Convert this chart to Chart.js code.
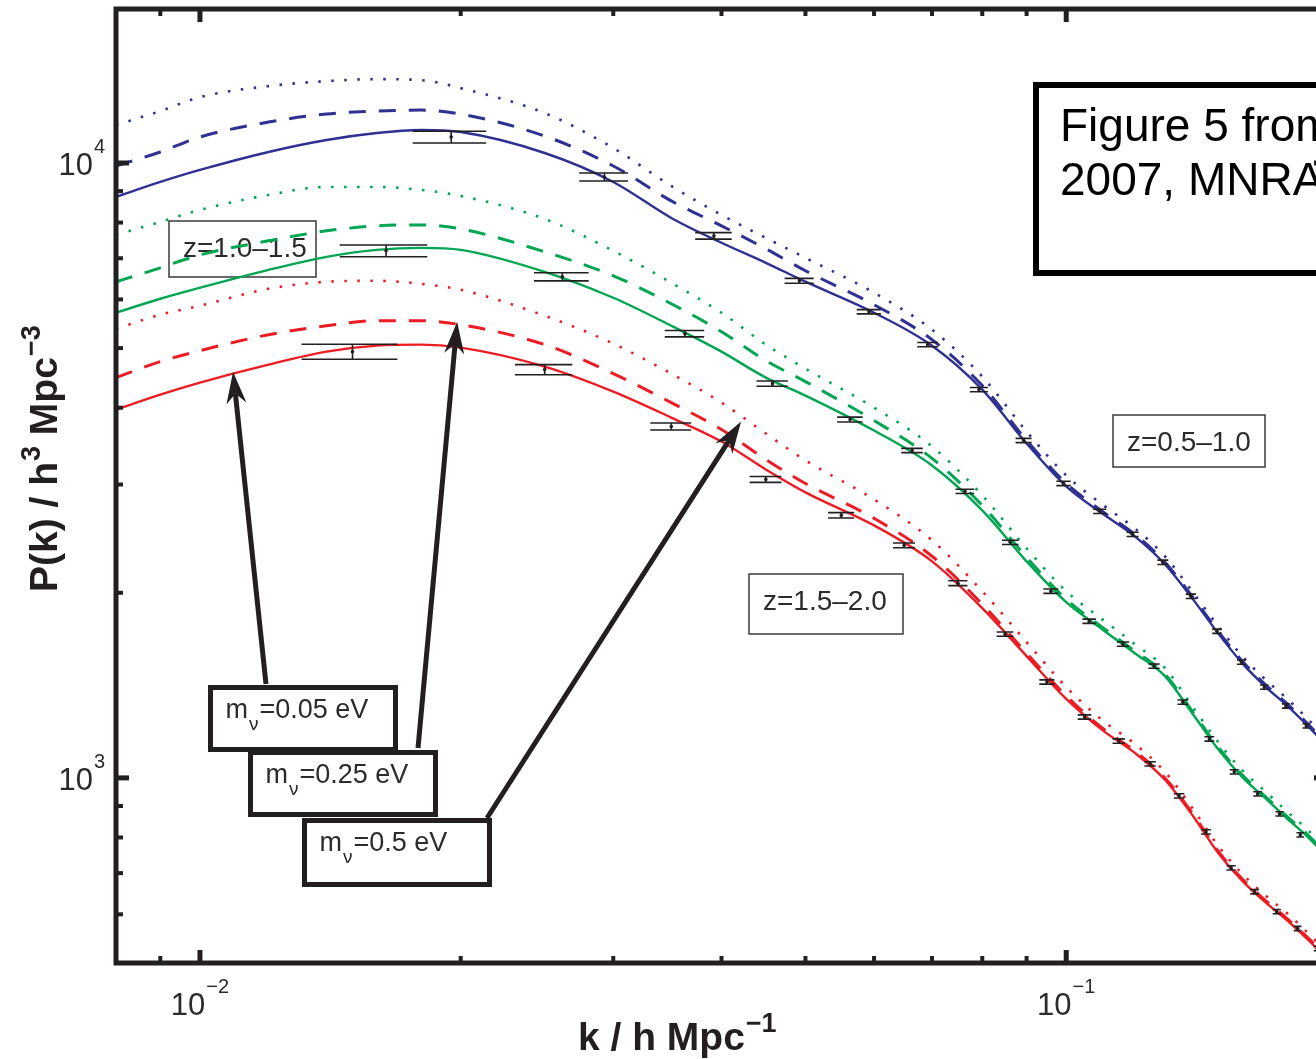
<!DOCTYPE html>
<html>
<head>
<meta charset="utf-8">
<title>P(k)</title>
<script src="https://cdn.jsdelivr.net/npm/chart.js@4.4.1/dist/chart.umd.min.js"></script>
<style>
  html, body { margin: 0; padding: 0; background: #fff; overflow: hidden; }
  #caja { position: relative; width: 1340px; height: 1059px; }
</style>
</head>
<body>
<div id="caja"><canvas id="grafica" width="1340" height="1059"></canvas></div>
<script>
// malla de k (h/Mpc) donde se leen los modelos
const kGrid = [0.008, 0.009, 0.01, 0.012, 0.014, 0.016, 0.018, 0.02, 0.025, 0.03, 0.035, 0.04, 0.045, 0.05,
  0.06, 0.07, 0.08, 0.09, 0.1, 0.11, 0.12, 0.13, 0.14, 0.15, 0.16, 0.17, 0.18, 0.19, 0.2];

// z = 0.5-1.0 (azul): m_nu = 0.05, 0.25, 0.5 eV
const pAzul005 = [8808, 9314, 9742, 10420, 10898, 11187, 11313, 11228, 10381, 9314, 8140, 7417, 6881, 6411,
  5708, 5045, 4280, 3499, 2979, 2693, 2471, 2226, 1953, 1713, 1531, 1405, 1309, 1215, 1127];
const pAzul025 = [9888, 10420, 11021, 11656, 12011, 12146, 12191, 12011, 11062, 9888, 8677, 7904, 7253, 6679,
  5882, 5159, 4345, 3538, 3013, 2714, 2490, 2243, 1967, 1726, 1543, 1416, 1319, 1224, 1136];
const pAzul05 = [11526, 12146, 12796, 13335, 13587, 13689, 13638, 13236, 12055, 10577, 9176, 8232, 7554, 7011,
  6151, 5356, 4494, 3659, 3104, 2785, 2546, 2293, 2004, 1759, 1572, 1443, 1344, 1247, 1157];

// z = 1.0-1.5 (verde)
const pVerde005 = [5708, 6015, 6268, 6703, 7037, 7224, 7278, 7224, 6653, 6037, 5437, 4934, 4477, 4186,
  3672, 3222, 2723, 2250, 1931, 1745, 1595, 1464, 1270, 1110, 1000, 925, 858, 802, 744];
const pVerde025 = [6409, 6753, 7090, 7471, 7756, 7902, 7931, 7814, 7170, 6554, 5903, 5317, 4771, 4410,
  3812, 3308, 2774, 2284, 1952, 1759, 1608, 1475, 1280, 1119, 1008, 931, 864, 808, 750];
const pVerde05 = [7640, 8021, 8389, 8873, 9142, 9142, 9040, 8840, 8111, 7197, 6385, 5708, 5065, 4630,
  4002, 3459, 2880, 2362, 2012, 1812, 1650, 1509, 1304, 1140, 1026, 949, 881, 823, 764];

// z = 1.5-2.0 (rojo)
const pRojo005 = [3972, 4201, 4394, 4700, 4934, 5046, 5065, 5008, 4665, 4248, 3855, 3524, 3174, 2913,
  2574, 2250, 1888, 1578, 1344, 1197, 1098, 993, 868, 753, 678, 627, 586, 546, 508];
const pRojo025 = [4477, 4753, 4952, 5257, 5437, 5540, 5540, 5458, 5065, 4544, 4077, 3686, 3295, 3012,
  2643, 2293, 1916, 1595, 1359, 1206, 1106, 1000, 874, 758, 683, 631, 590, 550, 512];
const pRojo05 = [5377, 5665, 5859, 6244, 6409, 6433, 6361, 6220, 5644, 5084, 4544, 4077, 3631, 3283,
  2837, 2434, 2012, 1663, 1405, 1242, 1136, 1023, 891, 773, 696, 643, 602, 560, 522];

// puntos simulados con sus errores relativos
const kAzul = [0.0195, 0.0293, 0.0392, 0.0492, 0.0592, 0.0692, 0.0793, 0.0893, 0.0993, 0.1093, 0.1193, 0.1293,
  0.1393, 0.1493, 0.1593, 0.1693, 0.1793, 0.1893];
const pAzulObs = [11021, 9490, 7612, 6433, 5729, 5065, 4280, 3538, 3012, 2713, 2489, 2242, 1974, 1732, 1543, 1405, 1309, 1215];
const errAzul = [0.022, 0.015, 0.012, 0.009, 0.008, 0.008, 0.008, 0.008, 0.008, 0.008, 0.008, 0.008, 0.008, 0.008, 0.008, 0.008, 0.008, 0.008];

const kVerde = [0.0164, 0.0262, 0.0363, 0.0458, 0.0563, 0.0664, 0.0764, 0.0862, 0.0960, 0.1063, 0.1163, 0.1263,
  0.1363, 0.1463, 0.1563, 0.1663, 0.1763, 0.1863];
const pVerdeObs = [7197, 6530, 5277, 4377, 3826, 3408, 2924, 2416, 2012, 1798, 1650, 1520, 1328, 1157, 1023, 942, 874, 808];
const errVerde = [0.022, 0.015, 0.012, 0.010, 0.009, 0.008, 0.008, 0.008, 0.008, 0.008, 0.008, 0.008, 0.008, 0.008, 0.008, 0.008, 0.008, 0.008];

const kRojo = [0.015, 0.025, 0.035, 0.045, 0.055, 0.065, 0.075, 0.085, 0.095, 0.105, 0.115, 0.125, 0.135, 0.145,
  0.155, 0.165, 0.175, 0.185, 0.195];
const pRojoObs = [4934, 4613, 3728, 3058, 2673, 2389, 2073, 1713, 1432, 1256, 1148, 1054, 935, 817, 714, 653, 606, 569, 528];
const errRojo = [0.028, 0.019, 0.013, 0.011, 0.010, 0.009, 0.009, 0.008, 0.008, 0.008, 0.008, 0.008, 0.008, 0.008, 0.008, 0.008, 0.008, 0.008, 0.008];

// ticks de los ejes
const xMayores = [0.01, 0.1];
const xExpos = ['\u22122', '\u22121'];
const xMenores = [0.009, 0.02, 0.03, 0.04, 0.05, 0.06, 0.07, 0.08, 0.09];
const yMayores = [1000, 10000];
const yExpos = ['3', '4'];
const yMenores = [600, 700, 800, 900, 2000, 3000, 4000, 5000, 6000, 7000, 8000, 9000];

const AZUL = '#2e3192', VERDE = '#00a651', ROJO = '#ed1c24', NEGRO = '#231f20';
const FUENTE = "'Liberation Sans', Arial, sans-serif";
const SEMI_CAJA = 0.0019;   // media anchura de las barras horizontales, en k

function serie(valores, color, dash, ancho) {
  return {
    type: 'line',
    data: kGrid.map((k, i) => ({ x: k, y: valores[i] })),
    borderColor: color,
    borderWidth: ancho,
    borderDash: dash,
    borderCapStyle: 'butt',
    pointRadius: 0,
    cubicInterpolationMode: 'monotone',
    fill: false
  };
}

function puntos(ks, ps) {
  return {
    type: 'scatter',
    data: ks.map((k, i) => ({ x: k, y: ps[i] })),
    pointRadius: 1.8,
    backgroundColor: NEGRO,
    borderWidth: 0
  };
}

const LINEA = [], GUION = [17, 13], PUNTO = [2.5, 10.5];

// texto con exponente: base y exponente en fuentes distintas
function conExpo(ctx, x, y, base, expo, fBase, fExpo, sube) {
  ctx.font = fBase;
  ctx.fillText(base, x, y);
  const w = ctx.measureText(base).width;
  ctx.font = fExpo;
  ctx.fillText(expo, x + w + 1, y - sube);
  return w + 1 + ctx.measureText(expo).width;
}

function anchoExpo(ctx, base, expo, fBase, fExpo) {
  ctx.font = fBase;
  const w = ctx.measureText(base).width;
  ctx.font = fExpo;
  return w + 1 + ctx.measureText(expo).width;
}

function flecha(ctx, x0, y0, x1, y1) {
  const a = Math.atan2(y1 - y0, x1 - x0), c = Math.cos(a), s = Math.sin(a);
  const L = 32, W = 10, N = 22;
  ctx.lineWidth = 5;
  ctx.beginPath();
  ctx.moveTo(x0, y0);
  ctx.lineTo(x1 - N * c, y1 - N * s);
  ctx.stroke();
  ctx.beginPath();
  ctx.moveTo(x1, y1);
  ctx.lineTo(x1 - L * c + W * s, y1 - L * s - W * c);
  ctx.lineTo(x1 - N * c, y1 - N * s);
  ctx.lineTo(x1 - L * c - W * s, y1 - L * s + W * c);
  ctx.closePath();
  ctx.fill();
}

const cajasZ = [
  { texto: 'z=0.5\u20131.0', x: 1113, y: 415, w: 152, h: 52 },
  { texto: 'z=1.0\u20131.5', x: 169, y: 221, w: 147, h: 56 },
  { texto: 'z=1.5\u20132.0', x: 749, y: 574, w: 154, h: 60 }
];

const cajasM = [
  { resto: '=0.05 eV', x: 210.5, y: 687.5, w: 185, h: 62, cola: [266, 684], punta: [0.01092, 4578] },
  { resto: '=0.25 eV', x: 250.5, y: 752.5, w: 185, h: 62, cola: [418, 748], punta: [0.01981, 5519] },
  { resto: '=0.5 eV', x: 304.5, y: 820.5, w: 185, h: 64, cola: [487, 818], punta: [0.04214, 3797] }
];

const adornos = {
  id: 'adornos',
  beforeDatasetsDraw(chart) {
    const ctx = chart.ctx;
    ctx.save();
    ctx.strokeStyle = '#3a3a3a';
    ctx.lineWidth = 1.5;
    ctx.fillStyle = '#2b2b2b';
    ctx.font = '28px ' + FUENTE;
    ctx.textBaseline = 'alphabetic';
    for (const c of cajasZ) {
      ctx.strokeRect(c.x, c.y, c.w, c.h);
      ctx.fillText(c.texto, c.x + 14, c.y + 36);
    }
    ctx.restore();
  },
  afterDatasetsDraw(chart) {
    const { ctx, chartArea: a, scales: { x, y } } = chart;

    // barras de error
    ctx.save();
    ctx.beginPath();
    ctx.rect(a.left, a.top, a.right - a.left, a.bottom - a.top);
    ctx.clip();
    ctx.strokeStyle = NEGRO;
    ctx.lineWidth = 1.6;
    const grupos = [[kAzul, pAzulObs, errAzul], [kVerde, pVerdeObs, errVerde], [kRojo, pRojoObs, errRojo]];
    for (const [ks, ps, es] of grupos) {
      ks.forEach((k, i) => {
        const xl = x.getPixelForValue(k - SEMI_CAJA), xr = x.getPixelForValue(k + SEMI_CAJA);
        const xc = x.getPixelForValue(k);
        const yt = y.getPixelForValue(ps[i] * (1 + es[i])), yb = y.getPixelForValue(ps[i] * (1 - es[i]));
        ctx.beginPath();
        ctx.moveTo(xl, yt); ctx.lineTo(xr, yt);
        ctx.moveTo(xl, yb); ctx.lineTo(xr, yb);
        ctx.moveTo(xc, yt); ctx.lineTo(xc, yb);
        ctx.stroke();
      });
    }
    ctx.restore();

    // cajas de masa con flechas
    ctx.save();
    ctx.strokeStyle = NEGRO;
    ctx.fillStyle = NEGRO;
    for (const c of cajasM) {
      flecha(ctx, c.cola[0], c.cola[1], x.getPixelForValue(c.punta[0]), y.getPixelForValue(c.punta[1]));
    }
    for (const c of cajasM) {
      ctx.fillStyle = '#fff';
      ctx.fillRect(c.x, c.y, c.w, c.h);
      ctx.lineWidth = 5;
      ctx.strokeStyle = NEGRO;
      ctx.strokeRect(c.x, c.y, c.w, c.h);
      ctx.fillStyle = '#2b2b2b';
      ctx.font = '27px ' + FUENTE;
      const bx = c.x + 15, by = c.y + 30;
      ctx.fillText('m', bx, by);
      const wm = ctx.measureText('m').width;
      ctx.font = '19px ' + FUENTE;
      ctx.fillText('\u03bd', bx + wm + 1, by + 12);
      const wn = ctx.measureText('\u03bd').width;
      ctx.font = '27px ' + FUENTE;
      ctx.fillText(c.resto, bx + wm + wn + 2, by);
    }

    // recuadro con la referencia
    ctx.lineWidth = 6;
    ctx.strokeStyle = '#000';
    ctx.fillStyle = '#fff';
    ctx.fillRect(1036, 85, 420, 188);
    ctx.strokeRect(1036, 85, 420, 188);
    ctx.fillStyle = '#000';
    ctx.font = '46px ' + FUENTE;
    ctx.fillText('Figure 5 from Abdalla & Rawlings', 1060, 141);
    ctx.fillText('2007, MNRAS', 1060, 195);
    ctx.restore();
  },
  afterDraw(chart) {
    const { ctx, chartArea: a, scales: { x, y } } = chart;
    ctx.save();
    ctx.strokeStyle = NEGRO;
    ctx.lineWidth = 5;
    ctx.strokeRect(a.left, a.top, a.right - a.left, a.bottom - a.top);

    // ticks hacia dentro en los cuatro lados
    const tick = (x0, y0, x1, y1, w) => {
      ctx.lineWidth = w;
      ctx.beginPath(); ctx.moveTo(x0, y0); ctx.lineTo(x1, y1); ctx.stroke();
    };
    for (const v of xMayores) {
      const px = x.getPixelForValue(v);
      tick(px, a.bottom, px, a.bottom - 13, 5);
      tick(px, a.top, px, a.top + 13, 5);
    }
    for (const v of xMenores) {
      const px = x.getPixelForValue(v);
      tick(px, a.bottom, px, a.bottom - 7, 4);
      tick(px, a.top, px, a.top + 7, 4);
    }
    for (const v of yMayores) {
      const py = y.getPixelForValue(v);
      tick(a.left, py, a.left + 13, py, 5);
      tick(a.right, py, a.right - 13, py, 5);
    }
    for (const v of yMenores) {
      const py = y.getPixelForValue(v);
      tick(a.left, py, a.left + 7, py, 4);
      tick(a.right, py, a.right - 7, py, 4);
    }

    // etiquetas de los ticks
    ctx.fillStyle = '#2b2b2b';
    ctx.textBaseline = 'alphabetic';
    const fB = '31px ' + FUENTE, fE = '20px ' + FUENTE;
    xMayores.forEach((v, i) => {
      const px = x.getPixelForValue(v);
      const w = anchoExpo(ctx, '10', xExpos[i], fB, fE);
      conExpo(ctx, px - w / 2, 1015, '10', xExpos[i], fB, fE, 22);
    });
    yMayores.forEach((v, i) => {
      const py = y.getPixelForValue(v);
      const w = anchoExpo(ctx, '10', yExpos[i], fB, fE);
      conExpo(ctx, 105 - w, py + 12, '10', yExpos[i], fB, fE, 22);
    });

    // titulos de los ejes
    ctx.fillStyle = NEGRO;
    const tB = 'bold 39px ' + FUENTE, tE = 'bold 27px ' + FUENTE;
    let cx = 578;
    ctx.font = tB;
    ctx.fillText('k / h Mpc', cx, 1050);
    cx += ctx.measureText('k / h Mpc').width + 1;
    ctx.font = tE;
    ctx.fillText('\u22121', cx, 1032);

    ctx.translate(57, 592);
    ctx.rotate(-Math.PI / 2);
    let ty = 0;
    ctx.font = tB;
    ctx.fillText('P(k) / h', ty, 0);
    ty += ctx.measureText('P(k) / h').width + 1;
    ctx.font = tE;
    ctx.fillText('3', ty, -17);
    ty += ctx.measureText('3').width;
    ctx.font = tB;
    ctx.fillText(' Mpc', ty, 0);
    ty += ctx.measureText(' Mpc').width + 1;
    ctx.font = tE;
    ctx.fillText('\u22123', ty, -17);
    ctx.restore();
  }
};

const grafica = new Chart(document.getElementById('grafica').getContext('2d'), {
  data: {
    datasets: [
      puntos(kAzul, pAzulObs),
      puntos(kVerde, pVerdeObs),
      puntos(kRojo, pRojoObs),
      serie(pAzul005, AZUL, LINEA, 2.4),
      serie(pAzul025, AZUL, GUION, 3),
      serie(pAzul05, AZUL, PUNTO, 2.6),
      serie(pVerde005, VERDE, LINEA, 2.4),
      serie(pVerde025, VERDE, GUION, 3),
      serie(pVerde05, VERDE, PUNTO, 2.6),
      serie(pRojo005, ROJO, LINEA, 2.4),
      serie(pRojo025, ROJO, GUION, 3),
      serie(pRojo05, ROJO, PUNTO, 2.6)
    ]
  },
  options: {
    responsive: false,
    animation: false,
    devicePixelRatio: 1,
    layout: { padding: { left: 116, top: 9, right: 13, bottom: 96 } },
    plugins: { legend: { display: false }, tooltip: { enabled: false } },
    scales: {
      x: { type: 'logarithmic', min: 0.008, max: 0.2, display: false },
      y: { type: 'logarithmic', min: 500, max: 17800, display: false }
    }
  },
  plugins: [adornos]
});
</script>
</body>
</html>
